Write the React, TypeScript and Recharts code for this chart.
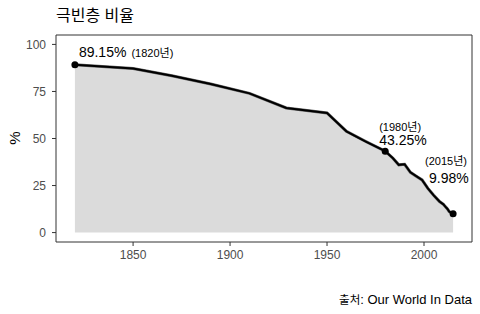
import { ComposedChart, Area, Line, Scatter, XAxis, YAxis, ReferenceArea } from 'recharts'

// 극빈층 비율 (share of world population in extreme poverty), 1820–2015
const years = [
  1820, 1850, 1870, 1890, 1910, 1929, 1950, 1960, 1970, 1980,
  1984, 1987, 1990, 1993, 1996, 1999, 2002, 2005, 2008, 2010,
  2011, 2012, 2013, 2015,
]
const poverty = [
  89.15, 87.2, 83.3, 79.0, 74.0, 66.2, 63.6, 53.8, 48.4, 43.25,
  39.5, 36.0, 36.3, 32.0, 30.0, 28.0, 23.5, 19.8, 16.5, 15.0,
  13.8, 12.7, 11.2, 9.98,
]

const markYears = [1820, 1980, 2015]
const markSubs = ['(1820년)', '(1980년)', '(2015년)']

const xTicks = [1850, 1900, 1950, 2000]
const yTicks = [0, 25, 50, 75, 100]

const data = years.map((year, i) => ({ year, value: poverty[i] }))
const marks = markYears.map((year, i) => ({
  year,
  value: poverty[years.indexOf(year)],
  sub: markSubs[i],
}))

const FONT = '"Liberation Sans", Arial, "Noto Sans CJK KR", sans-serif'
const X_DOMAIN = [1810.25, 2024.75]
const Y_DOMAIN = [-5, 105]

// point + its annotation; offsets differ per point like the original
// eslint-disable-next-line @typescript-eslint/no-explicit-any
function MarkShape(props: any) {
  const { cx, cy, payload } = props
  const main = `${payload.value}%`
  let label
  if (payload.year === 1820) {
    label = (
      <text x={cx + 4} y={cy - 8} fontFamily={FONT} fill="#000">
        <tspan fontSize={14}>{main}</tspan>
        <tspan fontSize={11} dx={5}>{payload.sub}</tspan>
      </text>
    )
  } else {
    const dx = payload.year === 1980 ? -6 : -28
    const dxMain = payload.year === 1980 ? -6 : -24
    const dySub = payload.year === 1980 ? -24.5 : -53
    const dyMain = payload.year === 1980 ? -11.5 : -36
    label = (
      <g fontFamily={FONT} fill="#000">
        <text x={cx + dx} y={cy + dySub} fontSize={11} dominantBaseline="central">{payload.sub}</text>
        <text x={cx + dxMain} y={cy + dyMain} fontSize={14} dominantBaseline="central">{main}</text>
      </g>
    )
  }
  return (
    <g>
      <circle cx={cx} cy={cy} r={3.5} fill="#000" />
      {label}
    </g>
  )
}

export default function App() {
  return (
    <div style={{ position: 'absolute', left: 0, top: 0, width: 480, height: 314, background: '#fff', fontFamily: FONT }}>
      <div style={{ position: 'absolute', left: 56, top: 6, fontSize: 16, color: '#000', lineHeight: '20px' }}>
        극빈층 비율
      </div>
      <div
        style={{
          position: 'absolute', left: 6, top: 130, width: 18, height: 16, fontSize: 15, lineHeight: '16px',
          textAlign: 'center', transform: 'rotate(-90deg)', color: '#000',
        }}
      >
        %
      </div>
      <div style={{ position: 'absolute', right: 8, top: 292, fontSize: 13, lineHeight: '16px', color: '#000' }}>
        <span style={{ fontSize: 11.5 }}>출처</span>: Our World In Data
      </div>
      <ComposedChart width={480} height={314} data={data} margin={{ top: 35, right: 8, bottom: 42, left: 0 }}>
        <XAxis
          dataKey="year"
          type="number"
          domain={X_DOMAIN}
          ticks={xTicks}
          axisLine={false}
          tickSize={4}
          tickMargin={4}
          height={30}
          tickLine={{ stroke: '#333' }}
          tick={{ fill: '#4d4d4d', fontSize: 12, fontFamily: FONT }}
        />
        <YAxis
          type="number"
          domain={Y_DOMAIN}
          ticks={yTicks}
          axisLine={false}
          tickSize={4}
          tickMargin={6}
          width={56}
          tickLine={{ stroke: '#333' }}
          tick={{ fill: '#4d4d4d', fontSize: 12, fontFamily: FONT }}
        />
        <Area
          dataKey="value"
          type="linear"
          fill="#dbdbdb"
          fillOpacity={1}
          stroke="#666"
          strokeWidth={3}
          isAnimationActive={false}
        />
        <Line dataKey="value" type="linear" stroke="#000" strokeWidth={2} dot={false} isAnimationActive={false} />
        <Scatter data={marks} dataKey="value" shape={<MarkShape />} isAnimationActive={false} />
        <ReferenceArea
          x1={X_DOMAIN[0]}
          x2={X_DOMAIN[1]}
          y1={Y_DOMAIN[0]}
          y2={Y_DOMAIN[1]}
          fill="none"
          stroke="#333"
          strokeWidth={1}
        />
      </ComposedChart>
    </div>
  )
}
